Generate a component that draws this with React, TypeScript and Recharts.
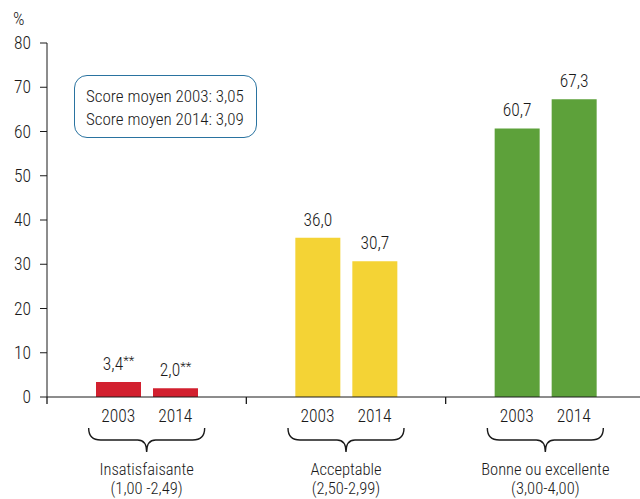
import { Bar, BarChart, Cell, LabelList, XAxis, YAxis } from 'recharts';

const categories = ['Insatisfaisante', 'Acceptable', 'Bonne ou excellente'];
const ranges = ['(1,00 -2,49)', '(2,50-2,99)', '(3,00-4,00)'];
const years = ['2003', '2014'];
const values2003 = [3.4, 36.0, 60.7];
const values2014 = [2.0, 30.7, 67.3];
const flags = ['**', '', ''];
const yTicks = [0, 10, 20, 30, 40, 50, 60, 70, 80];
const scoreLines = ['Score moyen 2003: 3,05', 'Score moyen 2014: 3,09'];

const colors = ['#D2202F', '#F4D335', '#5DA13A'];
const INK = '#1a1a1a';
const FONT = '"Roboto Condensed", "Liberation Sans", sans-serif';

const W = 640;
const H = 499;
const MARGIN = { top: 43, right: -5, bottom: 0, left: 0 };
const Y_W = 47;
const BAND = (W - MARGIN.left - MARGIN.right - Y_W) / categories.length;
const BAR = 45;
const GAP = 12;

const data = categories.map((name, i) => ({
    name,
    y2003: values2003[i],
    y2014: values2014[i],
    flag: flags[i],
}));

const fmt = (v: number) => v.toFixed(1).replace('.', ',');

// x-axis tick: years under bars, boundary tick, brace and group label
function CategoryTick(props: any) {
    const { x, y, payload } = props;
    const i = categories.indexOf(payload.value);
    const left = x - BAND / 2;
    const off = (BAR + GAP) / 2;
    const b0 = x - 58;
    const b1 = x + 58;
    const top = y + 31;
    const mid = y + 43;
    const tip = y + 55;
    const brace = `M${b0},${top} Q${b0},${mid} ${b0 + 12},${mid} L${x - 9},${mid} Q${x},${mid} ${x},${tip} Q${x},${mid} ${x + 9},${mid} L${b1 - 12},${mid} Q${b1},${mid} ${b1},${top}`;
    return (
        <g>
            <line x1={left} y1={y} x2={left} y2={y + 7} stroke={INK} strokeWidth={1.3} />
            {years.map((yr, k) => (
                <text key={yr} x={x + (k === 0 ? -off : off)} y={y + 25} textAnchor="middle" fontSize={17.5} fill={INK}>
                    {yr}
                </text>
            ))}
            <path d={brace} fill="none" stroke={INK} strokeWidth={1.4} />
            <text x={x} y={y + 78} textAnchor="middle" fontSize={16.5} fill={INK}>{categories[i]}</text>
            <text x={x} y={y + 97} textAnchor="middle" fontSize={16.5} fill={INK}>{ranges[i]}</text>
        </g>
    );
}

function BarValue(props: any) {
    const { x, y, width, value, index } = props;
    return (
        <text x={x + width / 2} y={y - 12} textAnchor="middle" fontSize={17.5} fill={INK}>
            {fmt(value)}
            {flags[index] ? <tspan fontSize={13} dy={-5}>{flags[index]}</tspan> : null}
        </text>
    );
}

export default function App() {
    return (
        <div style={{ position: 'absolute', left: 0, top: 0, width: W, height: H, fontFamily: FONT, fontWeight: 300, background: '#fff' }}>
            <BarChart width={W} height={H} data={data} margin={MARGIN} barSize={BAR} barGap={GAP}>
                <XAxis
                    dataKey="name"
                    height={H - 397}
                    tickSize={0}
                    tickMargin={0}
                    tickLine={false}
                    interval={0}
                    stroke={INK}
                    tick={<CategoryTick />}
                />
                <YAxis
                    width={Y_W}
                    domain={[0, 80]}
                    ticks={yTicks}
                    tickSize={7}
                    tickMargin={9}
                    stroke={INK}
                    tick={{ fill: INK, fontSize: 17.5 }}
                />
                <Bar dataKey="y2003" isAnimationActive={false}>
                    {data.map((d, i) => <Cell key={d.name} fill={colors[i]} />)}
                    <LabelList dataKey="y2003" content={<BarValue />} />
                </Bar>
                <Bar dataKey="y2014" isAnimationActive={false}>
                    {data.map((d, i) => <Cell key={d.name} fill={colors[i]} />)}
                    <LabelList dataKey="y2014" content={<BarValue />} />
                </Bar>
            </BarChart>
            <div style={{ position: 'absolute', left: 13, top: 8, fontSize: 18, color: INK }}>%</div>
            <div
                style={{
                    position: 'absolute', left: 74, top: 75, width: 183, height: 63, boxSizing: 'border-box',
                    border: '1.5px solid #2A73A0', borderRadius: 13, padding: '9px 0 0 11px',
                    fontSize: 17, lineHeight: '23px', color: INK, whiteSpace: 'nowrap',
                }}
            >
                {scoreLines.map(s => <div key={s}>{s}</div>)}
            </div>
        </div>
    );
}
